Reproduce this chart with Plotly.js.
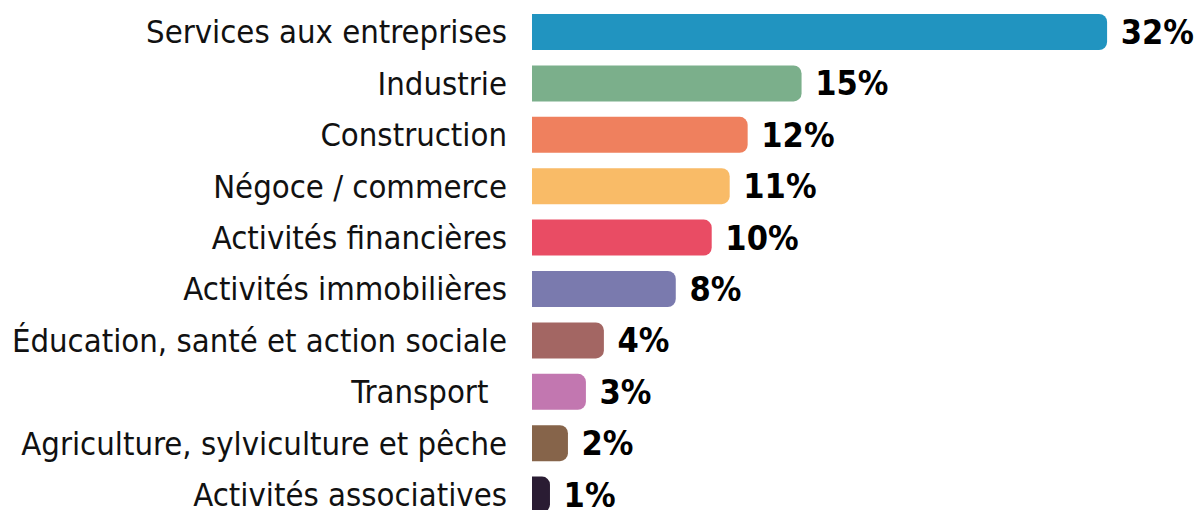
<!DOCTYPE html>
<html>
<head>
<meta charset="utf-8">
<script src="https://cdn.plot.ly/plotly-3.0.1.min.js"></script>
<style>html,body{margin:0;padding:0;background:#fff;}#chart{width:1200px;height:510px;}</style>
</head>
<body>
<div id="chart"></div>
<script>
const categories = [
  "Services aux entreprises",
  "Industrie",
  "Construction",
  "Négoce / commerce",
  "Activités financières",
  "Activités immobilières",
  "Éducation, santé et action sociale",
  "Transport\u00a0\u00a0",
  "Agriculture, sylviculture et pêche",
  "Activités associatives"
];
const values = [32, 15, 12, 11, 10, 8, 4, 3, 2, 1];
const colors = ["#2194C0", "#7BAF8B", "#EF805E", "#F9BB67", "#E94C64", "#7A7AAE", "#A36663", "#C277B0", "#86644A", "#2A1C33"];

const labelFont = "Liberation Sans Narrow, DejaVu Sans Condensed, sans-serif";
const valueFont = "DejaVu Sans Condensed, Liberation Sans Narrow, sans-serif";

const trace = {
  type: "bar",
  orientation: "h",
  y: categories,
  x: values,
  width: 0.70,
  marker: {color: colors, cornerradius: 8},
  text: values.map(v => "\u00a0" + v + "%"),
  textposition: "outside",
  textfont: {family: valueFont, size: 34, color: "#000", weight: 900},
  constraintext: "none",
  cliponaxis: false,
  hoverinfo: "none"
};

const layout = {
  width: 1200,
  height: 510,
  margin: {l: 532, r: 0, t: 0, b: 0},
  paper_bgcolor: "#fff",
  plot_bgcolor: "#fff",
  showlegend: false,
  xaxis: {range: [0, 37.17], showgrid: false, zeroline: false, showticklabels: false, showline: false, ticks: ""},
  yaxis: {
    type: "category",
    range: [9.2996, -0.6226],
    showgrid: false, zeroline: false, showline: false, ticks: "",
    ticklabelstandoff: 24,
    tickfont: {family: labelFont, size: 32.6, color: "#111"}
  }
};

Plotly.newPlot("chart", [trace], layout, {displayModeBar: false, staticPlot: true});
</script>
</body>
</html>
